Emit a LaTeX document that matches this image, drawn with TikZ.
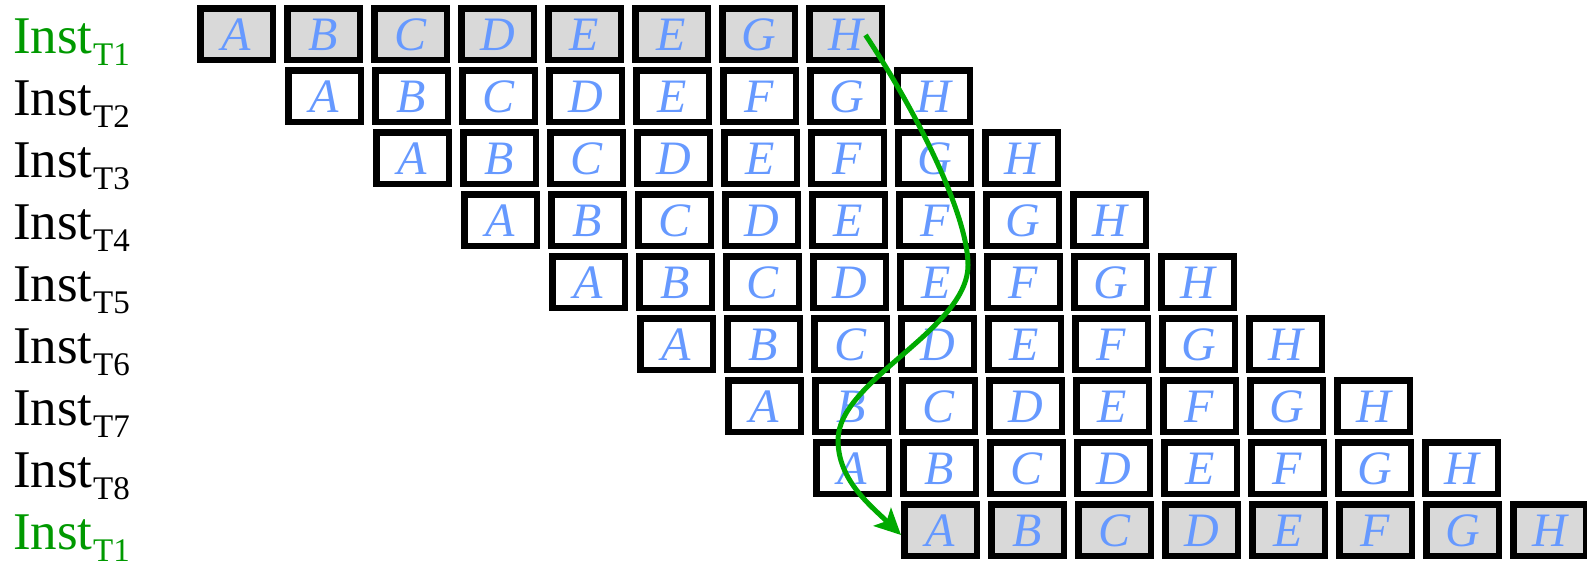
\documentclass[tikz,border=0pt]{standalone}
\usepackage{fontspec}
\setmainfont{Liberation Serif}
\usetikzlibrary{arrows.meta,calc}
\definecolor{lettblue}{RGB}{102,153,255}
\definecolor{boxgray}{RGB}{217,217,217}
\definecolor{lblgreen}{RGB}{0,153,0}
\definecolor{arrgreen}{RGB}{0,170,0}
\begin{document}
\begin{tikzpicture}[x=1pt,y=-1pt,
  cell/.style={draw=black, line width=6.5pt, minimum width=72.5pt, minimum height=51.5pt,
    inner sep=0pt, text=lettblue, font=\fontsize{48}{48}\selectfont\itshape,
    text height=32pt, text depth=0pt, anchor=north west},
  graycell/.style={cell, fill=boxgray},
  instlbl/.style={anchor=base west, inner sep=0pt, font=\fontsize{53}{53}\selectfont},
  sublbl/.style={anchor=base west, inner sep=0pt, font=\fontsize{33}{33}\selectfont},
  flow/.style={draw=arrgreen, line width=5pt, -{Stealth[length=26pt,width=25pt,inset=6pt]}}]
\useasboundingbox (0,0) rectangle (1587,566);
% first row (gray)
\foreach \L [count=\k from 0] in {A,B,C,D,E,E,G,H}
  \node[graycell] (c0-\k) at ({197+87*\k}, 5) {\L};
% middle rows
\foreach \r in {1,...,7} {
  \foreach \L [count=\k from 0] in {A,B,C,D,E,F,G,H}
    \node[cell] (c\r-\k) at ({197+88*\r+87*\k}, {5+62*\r}) {\L};
}
% last row (gray)
\foreach \L [count=\k from 0] in {A,B,C,D,E,F,G,H}
  \node[graycell] (c8-\k) at ({197+704+87*\k}, 501) {\L};
% labels
\foreach \r/\nn/\cc in {0/1/lblgreen,1/2/black,2/3/black,3/4/black,4/5/black,5/6/black,6/7/black,7/8/black,8/1/lblgreen} {
  \node[instlbl, text=\cc] (l\r) at (13, {53+62*\r}) {Inst};
  \node[sublbl, text=\cc] (s\r) at ($(l\r.base east)+(0,12)$) {T\nn};
}
% green arrow
\draw[flow] ($(c0-7.center)+(20,1)$) .. controls (925,125) and (968,220) .. (968,265)
  .. controls (968,330) and (838,380) .. (838,440)
  .. controls (838,480) and (870,505) .. ($(c8-0.west)+(0,5)$);
\end{tikzpicture}
\end{document}
